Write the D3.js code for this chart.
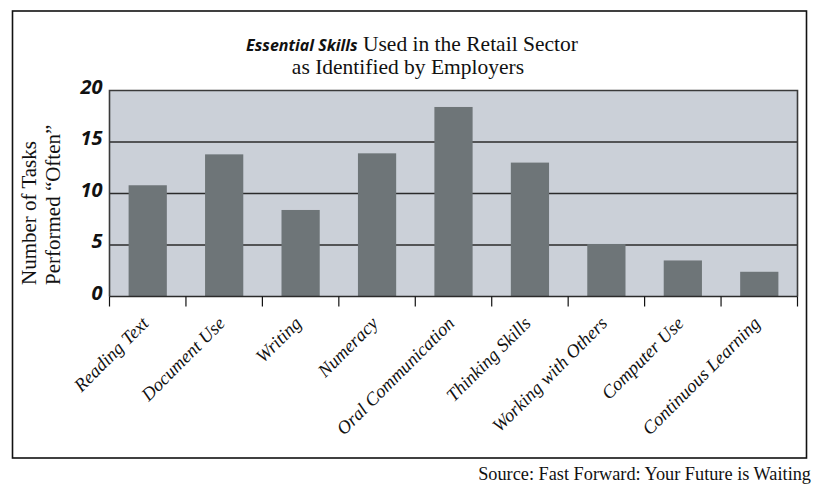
<!DOCTYPE html>
<html>
<head>
<meta charset="utf-8">
<script src="https://cdn.jsdelivr.net/npm/d3@7"></script>
<style>
  html, body { margin: 0; padding: 0; background: #ffffff; }
  svg { display: block; }
</style>
</head>
<body>
<svg id="chart" width="820" height="492"></svg>
<script>
const categories = ["Reading Text", "Document Use", "Writing", "Numeracy", "Oral Communication",
  "Thinking Skills", "Working with Others", "Computer Use", "Continuous Learning"];
const values = [10.8, 13.8, 8.4, 13.9, 18.4, 13.0, 5.1, 3.5, 2.4];
const yTicks = [0, 5, 10, 15, 20];
const titleBold = "Essential Skills";
const titleRest = " Used in the Retail Sector";
const titleLine2 = "as Identified by Employers";
const yTitle = ["Number of Tasks", "Performed \u201COften\u201D"];
const source = "Source: Fast Forward: Your Future is Waiting";

const serif = "'Liberation Serif', 'DejaVu Serif', serif";
const sans = "'Open Sans', 'Noto Sans', sans-serif";

const svg = d3.select("#chart");
const plot = { left: 109.5, right: 797.5, top: 90.5, bottom: 296.5 };

// outer frame
svg.append("rect").attr("x", 12.5).attr("y", 11).attr("width", 794).attr("height", 447)
  .attr("fill", "none").attr("stroke", "#111").attr("stroke-width", 1.6);

const x = d3.scaleBand().domain(categories).range([plot.left, plot.right])
  .paddingInner(0.5).paddingOuter(0.25);
const y = d3.scaleLinear().domain([0, 20]).range([plot.bottom, plot.top]);

// plot background
svg.append("rect").attr("x", plot.left).attr("y", plot.top)
  .attr("width", plot.right - plot.left).attr("height", plot.bottom - plot.top)
  .attr("fill", "#cbd0d8");

// gridlines
svg.append("g").selectAll("line").data(yTicks.filter(d => d > 0 && d < 20)).join("line")
  .attr("x1", plot.left).attr("x2", plot.right)
  .attr("y1", d => y(d)).attr("y2", d => y(d))
  .attr("stroke", "#2b2b2b").attr("stroke-width", 1.5);

// bars
svg.append("g").selectAll("rect").data(values).join("rect")
  .attr("x", (d, i) => x(categories[i]))
  .attr("width", x.bandwidth())
  .attr("y", d => y(d))
  .attr("height", d => y(0) - y(d))
  .attr("fill", "#6e7578");

// plot border: left, top, right
svg.append("path")
  .attr("d", `M${plot.left},${plot.bottom}V${plot.top}H${plot.right}V${plot.bottom}`)
  .attr("fill", "none").attr("stroke", "#3a3a3a").attr("stroke-width", 1.6);

// x axis
const xAxis = svg.append("g").attr("transform", `translate(0,${plot.bottom})`);
xAxis.append("line").attr("x1", plot.left).attr("x2", plot.right)
  .attr("stroke", "#2b2b2b").attr("stroke-width", 1.5);
const bounds = d3.range(categories.length + 1).map(i => plot.left + i * x.step());
xAxis.selectAll("line.tick").data(bounds).join("line").attr("class", "tick")
  .attr("x1", d => d).attr("x2", d => d).attr("y1", 0).attr("y2", 10)
  .attr("stroke", "#111").attr("stroke-width", 1.2);

xAxis.selectAll("text").data(categories).join("text")
  .attr("transform", d => `translate(${x(d) + x.bandwidth() / 2 + 2},${28}) rotate(-45)`)
  .attr("text-anchor", "end")
  .attr("font-family", serif).attr("font-style", "italic")
  .attr("font-size", 18.5).attr("fill", "#111")
  .text(d => d);

// y tick labels
svg.append("g").selectAll("text").data(yTicks).join("text")
  .attr("x", plot.left - 7).attr("y", d => y(d) + 3)
  .attr("text-anchor", "end")
  .attr("font-family", sans).attr("font-weight", "bold").attr("font-style", "italic")
  .attr("font-size", 20).attr("fill", "#111")
  .text(d => d);

// y axis title
yTitle.forEach((t, i) => {
  svg.append("text")
    .attr("transform", `translate(${36 + i * 24},285) rotate(-90)`)
    .attr("text-anchor", "start")
    .attr("font-family", serif).attr("font-size", 21).attr("fill", "#111")
    .text(t);
});

// title
const t1 = svg.append("text").attr("x", 412).attr("y", 51).attr("text-anchor", "middle")
  .attr("font-family", serif).attr("font-size", 21.5).attr("fill", "#111");
t1.append("tspan").attr("font-family", sans).attr("font-weight", "bold").attr("font-style", "italic")
  .attr("font-size", 16).text(titleBold);
t1.append("tspan").text(titleRest);
svg.append("text").attr("x", 408).attr("y", 74).attr("text-anchor", "middle")
  .attr("font-family", serif).attr("font-size", 21.5).attr("fill", "#111").text(titleLine2);

// source
svg.append("text").attr("x", 811).attr("y", 480).attr("text-anchor", "end")
  .attr("font-family", serif).attr("font-size", 18.3).attr("fill", "#111").text(source);
</script>
</body>
</html>
